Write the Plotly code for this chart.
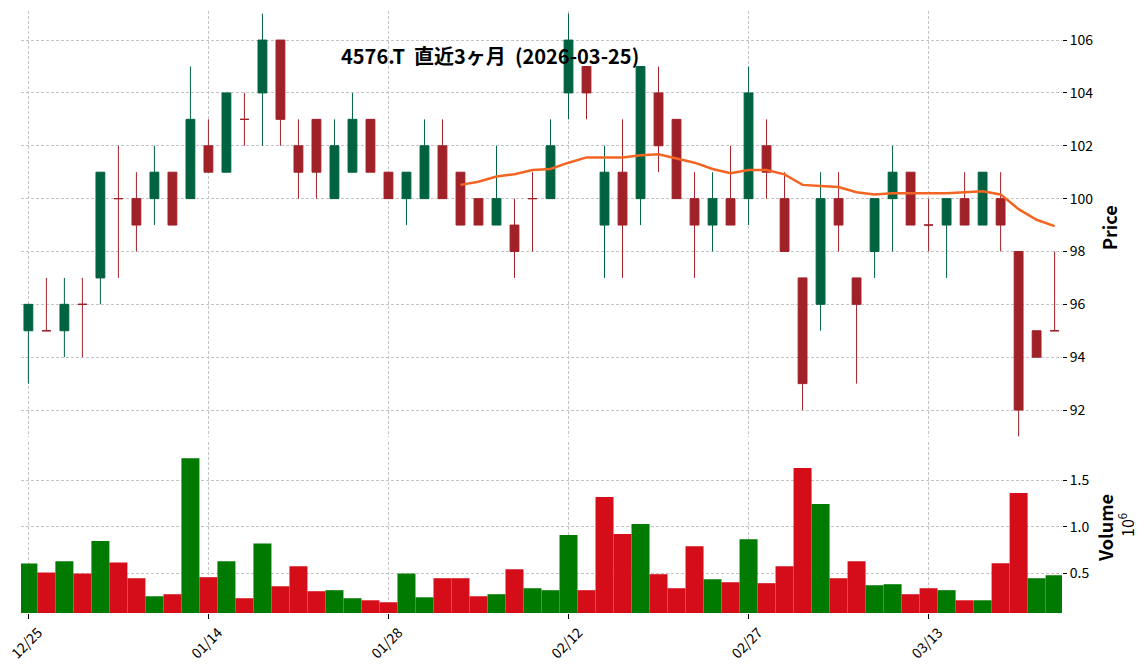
import plotly.graph_objects as go
import pandas as pd

# ---- data ----
dates = ["2025-12-25", "2025-12-26", "2025-12-29", "2025-12-30", "2026-01-05", "2026-01-06",
         "2026-01-07", "2026-01-08", "2026-01-09", "2026-01-13", "2026-01-14", "2026-01-15",
         "2026-01-16", "2026-01-19", "2026-01-20", "2026-01-21", "2026-01-22", "2026-01-23",
         "2026-01-26", "2026-01-27", "2026-01-28", "2026-01-29", "2026-01-30", "2026-02-02",
         "2026-02-03", "2026-02-04", "2026-02-05", "2026-02-06", "2026-02-09", "2026-02-10",
         "2026-02-12", "2026-02-13", "2026-02-16", "2026-02-17", "2026-02-18", "2026-02-19",
         "2026-02-20", "2026-02-24", "2026-02-25", "2026-02-26", "2026-02-27", "2026-03-02",
         "2026-03-03", "2026-03-04", "2026-03-05", "2026-03-06", "2026-03-09", "2026-03-10",
         "2026-03-11", "2026-03-12", "2026-03-13", "2026-03-16", "2026-03-17", "2026-03-18",
         "2026-03-19", "2026-03-23", "2026-03-24", "2026-03-25"]

opens = [95, 95, 95, 96, 97, 100, 100, 100, 101, 100, 102, 101, 103, 104, 106, 102, 103, 100,
         101, 103, 101, 100, 100, 102, 101, 100, 99, 99, 100, 100, 104, 105, 99, 101, 100, 104,
         103, 100, 99, 100, 100, 102, 100, 97, 96, 100, 97, 98, 100, 101, 99, 99, 100, 99, 100,
         98, 95, 95]
highs = [96, 97, 97, 97, 101, 102, 101, 102, 101, 105, 103, 104, 104, 107, 106, 103, 103, 103,
         104, 103, 101, 101, 103, 103, 101, 100, 102, 100, 101, 103, 107, 105, 102, 103, 105, 105,
         103, 101, 101, 102, 105, 103, 101, 97, 101, 101, 97, 100, 102, 101, 100, 100, 101, 101,
         101, 98, 95, 98]
lows = [93, 95, 94, 94, 96, 97, 98, 99, 99, 100, 101, 101, 102, 102, 102, 100, 100, 100, 101,
        101, 100, 99, 100, 100, 99, 99, 99, 97, 98, 100, 103, 103, 97, 97, 99, 101, 100, 97, 98,
        99, 99, 100, 98, 92, 95, 98, 93, 97, 98, 99, 98, 97, 99, 99, 98, 91, 94, 95]
closes = [96, 95, 96, 96, 101, 100, 99, 101, 99, 103, 101, 104, 103, 106, 103, 101, 101, 102,
          103, 101, 100, 101, 102, 100, 99, 99, 100, 98, 100, 102, 106, 104, 101, 99, 105, 102,
          100, 99, 100, 99, 104, 101, 98, 93, 100, 99, 96, 100, 101, 99, 99, 100, 99, 101, 99,
          92, 94, 95]
volume_m = [0.607, 0.511, 0.632, 0.500, 0.847, 0.618, 0.450, 0.257, 0.279, 1.733, 0.461, 0.632,
            0.236, 0.822, 0.364, 0.579, 0.311, 0.322, 0.236, 0.214, 0.193, 0.500, 0.246, 0.450,
            0.450, 0.257, 0.279, 0.547, 0.343, 0.322, 0.911, 0.322, 1.318, 0.922, 1.029, 0.493,
            0.343, 0.793, 0.439, 0.407, 0.868, 0.397, 0.579, 1.629, 1.243, 0.450, 0.632, 0.375,
            0.386, 0.279, 0.343, 0.322, 0.214, 0.214, 0.611, 1.361, 0.450, 0.482]

tick_every = 10
ma_window = 25
title_text = "4576.T\u00a0\u00a0直近3ヶ月\u00a0\u00a0(2026-03-25)"

# ---- styles ----
UP = "#006340"
DOWN = "#A02128"
VUP = "#007A00"
VDOWN = "#D50D18"
MA_COLOR = "#F26522"
GRID = "#C4C4C4"
FONT = "Noto Sans CJK JP"

idx = list(range(len(dates)))
up = [c > o for o, c in zip(opens, closes)]
vol_up = [(closes[i] > closes[i - 1]) if i > 0 else up[0] for i in idx]
ma = pd.Series(closes).rolling(ma_window).mean()

fig = go.Figure()


def sel(arr, mask):
    return [a for a, m in zip(arr, mask) if m]


for mask, col in ((up, UP), ([not u for u in up], DOWN)):
    fig.add_trace(go.Candlestick(
        x=sel(idx, mask), open=sel(opens, mask), high=sel(highs, mask),
        low=sel(lows, mask), close=sel(closes, mask),
        increasing=dict(line=dict(color=col, width=1), fillcolor=col),
        decreasing=dict(line=dict(color=col, width=1), fillcolor=col),
        whiskerwidth=0, xaxis="x", yaxis="y", showlegend=False, hoverinfo="skip"))

fig.add_trace(go.Scatter(x=idx, y=ma, mode="lines", line=dict(color=MA_COLOR, width=2.5),
                         xaxis="x", yaxis="y", showlegend=False, hoverinfo="skip"))

fig.add_trace(go.Bar(x=idx, y=volume_m, width=1.0,
                     marker=dict(color=[VUP if v else VDOWN for v in vol_up], line=dict(width=0)),
                     xaxis="x2", yaxis="y2", showlegend=False, hoverinfo="skip"))

tickvals = idx[::tick_every]
ticktext = [pd.Timestamp(dates[i]).strftime("%m/%d") for i in tickvals]

W, H = 1148, 670
ml, mr, mt, mb = 21, 86, 11, 57
ph = H - mt - mb
pw = W - ml - mr


def py(pix):
    return (H - mb - pix) / ph


def px(pix):
    return (pix - ml) / pw


common_x = dict(range=[-0.41, len(dates) - 1 + 0.41], tickvals=tickvals, showgrid=True,
                gridcolor=GRID, griddash="3px,2px", gridwidth=0.8, zeroline=False, showline=False,
                automargin=False, ticklabeloverflow="allow")
common_y = dict(side="right", showgrid=True, gridcolor=GRID, griddash="3px,2px", gridwidth=0.8,
                zeroline=False, showline=False, ticks="outside", ticklen=4, tickcolor="#000",
                automargin=False, ticklabeloverflow="allow",
                tickfont=dict(size=14, color="#000", family=FONT))

fig.update_layout(
    width=W, height=H,
    margin=dict(l=ml, r=mr, t=mt, b=mb, autoexpand=False),
    paper_bgcolor="white", plot_bgcolor="white",
    font=dict(family=FONT, color="#000"),
    xaxis=dict(domain=[0, 1], anchor="y", showticklabels=False, ticks="",
               rangeslider=dict(visible=False), **common_x),
    xaxis2=dict(domain=[0, 1], anchor="y2", matches="x", ticktext=ticktext, tickangle=-45,
                ticks="outside", ticklen=5, tickcolor="#000", ticklabelshift=10,
                tickfont=dict(size=14, color="#000", family=FONT), **common_x),
    yaxis=dict(domain=[py(437), 1], range=[90.98, 107.1], tickvals=list(range(92, 107, 2)),
               **common_y),
    yaxis2=dict(domain=[0, py(442)], range=[0.078, 1.907], tickvals=[0.5, 1.0, 1.5],
                ticktext=["0.5", "1.0", "1.5"], **common_y),
    annotations=[
        dict(text="<b>" + title_text + "</b>", x=px(490), y=py(55), xref="paper", yref="paper",
             showarrow=False, xanchor="center", yanchor="middle",
             font=dict(size=20, family=FONT, color="#000")),
        dict(text="<b>Price</b>", x=px(1109), y=py(228), xref="paper", yref="paper",
             showarrow=False, textangle=-90, xanchor="center", yanchor="middle",
             font=dict(size=18, family=FONT, color="#000")),
        dict(text="<b>Volume</b>", x=px(1105), y=py(528), xref="paper", yref="paper",
             showarrow=False, textangle=-90, xanchor="center", yanchor="middle",
             font=dict(size=18, family=FONT, color="#000")),
        dict(text="10<sup>6</sup>", x=px(1126), y=py(525), xref="paper", yref="paper",
             showarrow=False, textangle=-90, xanchor="center", yanchor="middle",
             font=dict(size=16, family=FONT, color="#000")),
    ],
)

fig.write_html("out.html", post_script="document.body.style.margin='0';",
               config={"displayModeBar": False})
